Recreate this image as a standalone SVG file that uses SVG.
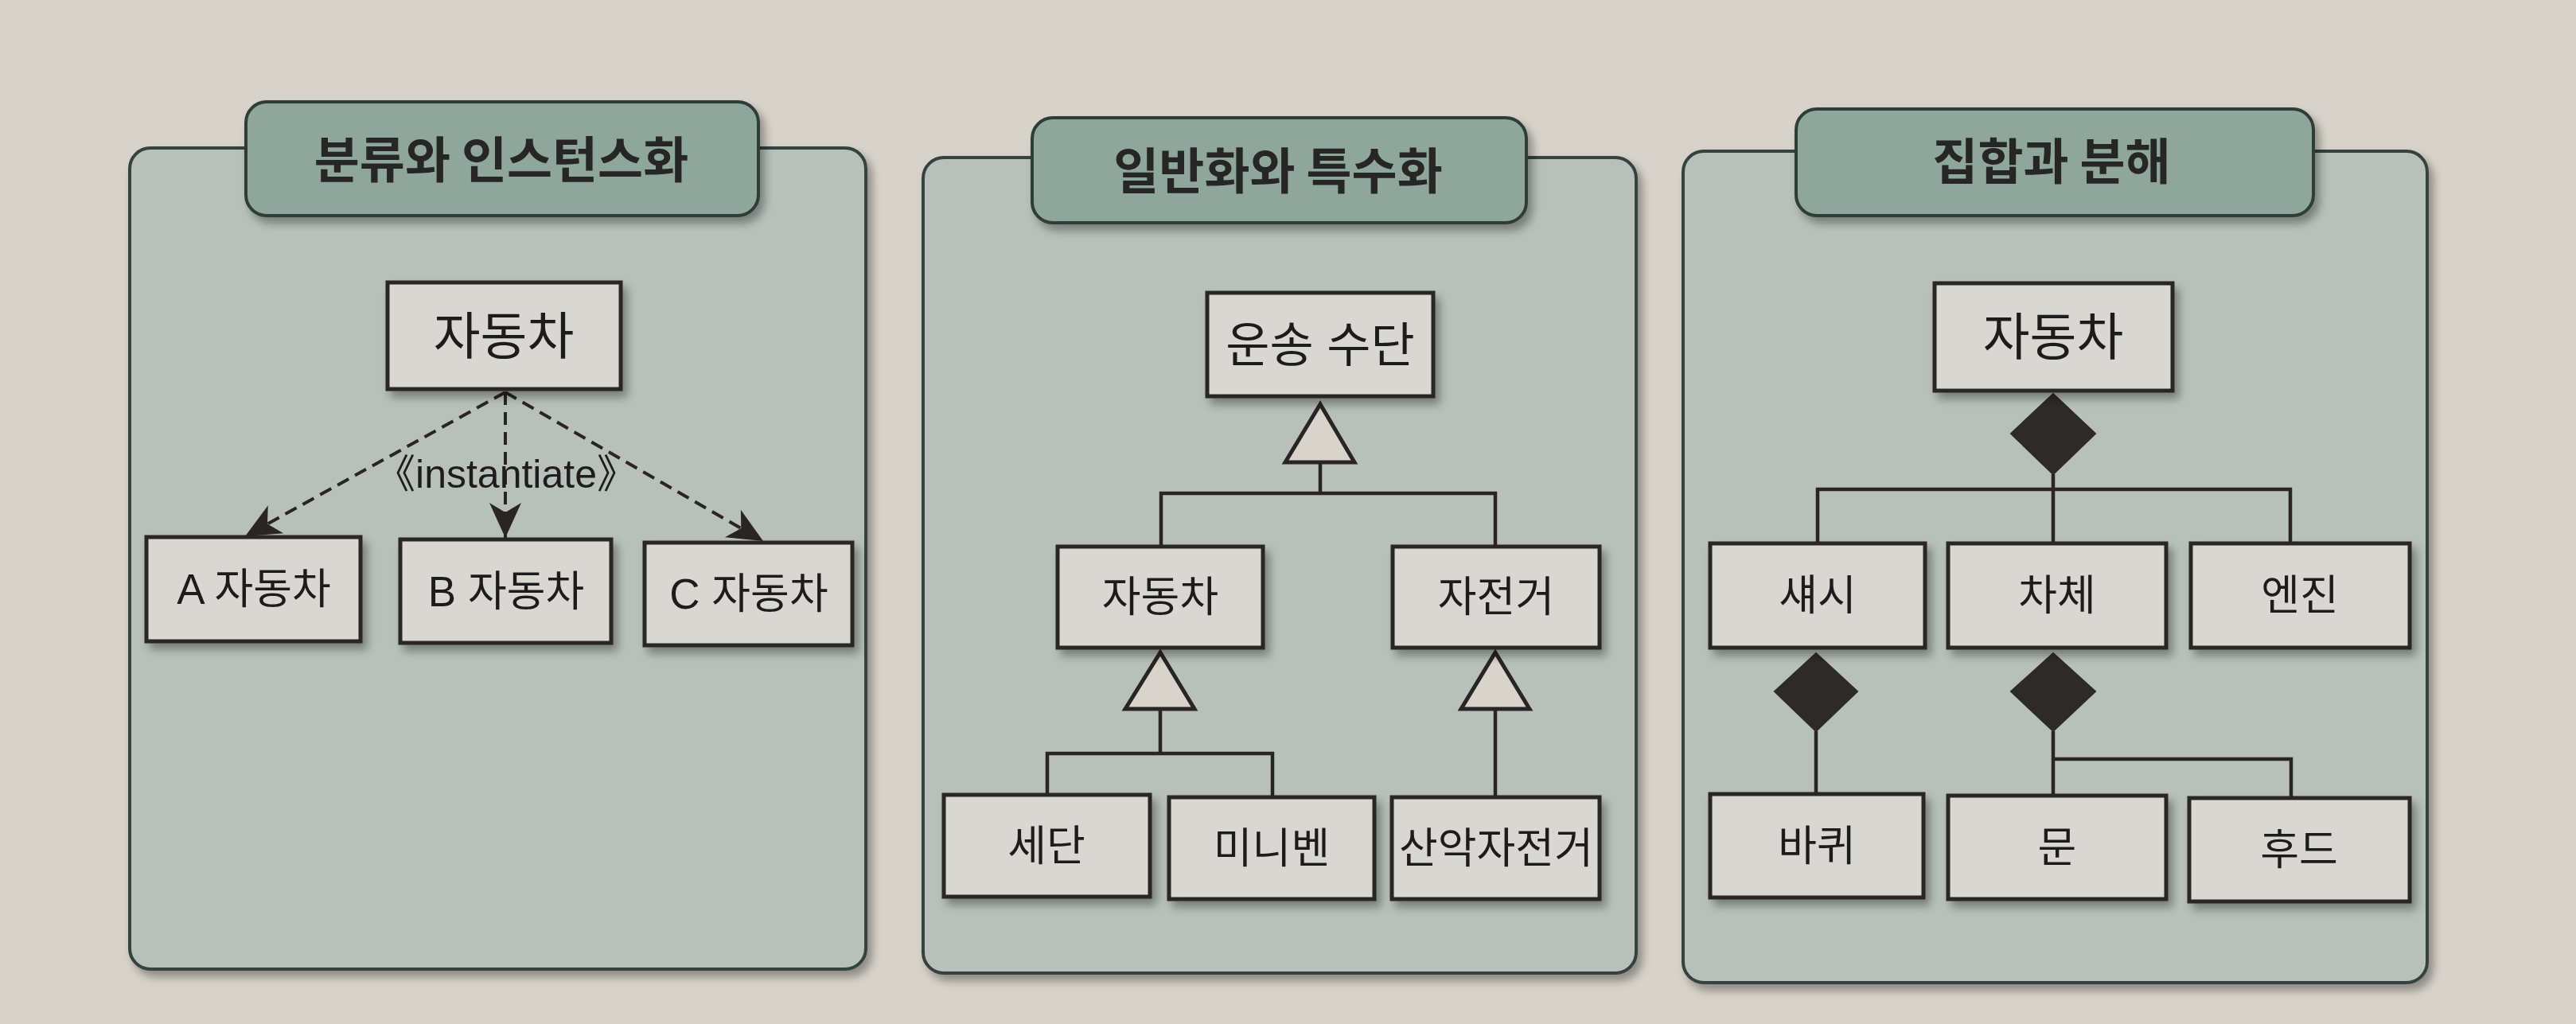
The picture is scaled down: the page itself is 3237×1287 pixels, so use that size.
<svg xmlns="http://www.w3.org/2000/svg" width="3237" height="1287" viewBox="0 0 3237 1287">
<defs>
<style>
.bg{fill:#d8d3ca}
.panel{fill:#b7c1ba;stroke:#34423c;stroke-width:4}
.tab{fill:#8fa69c;stroke:#2f3d37;stroke-width:4}
.title{font-family:"Noto Sans CJK KR","Noto Sans",sans-serif;font-weight:700;font-size:62px;fill:#262626;text-anchor:middle}
.node rect{fill:#d9d7d1;stroke:#2a2524;stroke-width:5}
.lbl{font-family:"Liberation Sans","Noto Sans CJK KR",sans-serif;font-size:53px;fill:#1e1c1c;text-anchor:middle}
.big{font-size:64px}
.ln{fill:none;stroke:#2a2524;stroke-width:4.5}
.dash{fill:none;stroke:#2a2524;stroke-width:4;stroke-dasharray:16 9}
.tri{fill:#d9d4cb;stroke:#2a2524;stroke-width:5;stroke-linejoin:miter}
.dia{fill:#2e2a28;stroke:#2e2a28;stroke-width:2}
.inst{font-family:"Liberation Sans","Noto Sans CJK KR",sans-serif;font-size:50px;fill:#1e1c1c;text-anchor:middle}
</style>
<filter id="sh" x="-10%" y="-10%" width="130%" height="130%">
<feGaussianBlur in="SourceAlpha" stdDeviation="6"/>
<feOffset dx="6" dy="8" result="b"/>
<feComponentTransfer><feFuncA type="linear" slope="0.35"/></feComponentTransfer>
<feMerge><feMergeNode/><feMergeNode in="SourceGraphic"/></feMerge>
</filter>
<marker id="ah" markerUnits="userSpaceOnUse" markerWidth="50" markerHeight="50" viewBox="-45 -25 50 50" refX="0" refY="0" orient="auto">
<path d="M0,0 L-44,-20 L-32,0 L-44,20 Z" fill="#2a2524"/>
</marker>
</defs>
<rect class="bg" x="0" y="0" width="3237" height="1287"/>

<!-- Panel 1 -->
<g id="panel1">
<rect class="panel" x="163" y="186" width="925" height="1032" rx="26" filter="url(#sh)"/>
<rect class="tab" x="309" y="128" width="644" height="143" rx="26" filter="url(#sh)"/>
<text class="title" x="630" y="224">분류와 인스턴스화</text>
</g>
<!-- Panel 2 -->
<g id="panel2">
<rect class="panel" x="1160" y="198" width="896" height="1025" rx="26" filter="url(#sh)"/>
<rect class="tab" x="1297" y="148" width="621" height="132" rx="26" filter="url(#sh)"/>
<text class="title" x="1606" y="238">일반화와 특수화</text>
</g>
<!-- Panel 3 -->
<g id="panel3">
<rect class="panel" x="2115" y="190" width="935" height="1045" rx="26" filter="url(#sh)"/>
<rect class="tab" x="2257" y="137" width="650" height="134" rx="26" filter="url(#sh)"/>
<text class="title" x="2578" y="226">집합과 분해</text>
</g>

<!-- Connectors -->
<g id="connectors">
<line class="dash" x1="635" y1="493" x2="308" y2="674" marker-end="url(#ah)"/>
<line class="dash" x1="635" y1="493" x2="635" y2="676" marker-end="url(#ah)"/>
<line class="dash" x1="635" y1="493" x2="959" y2="680" marker-end="url(#ah)"/>
<polyline class="ln" points="1659,581 1659,620"/>
<polyline class="ln" points="1459,687 1459,620 1879,620 1879,687"/>
<polygon class="tri" points="1659,508 1615,581 1702,581"/>
<polyline class="ln" points="1458,891 1458,947"/>
<polyline class="ln" points="1316,999 1316,947 1599,947 1599,1002"/>
<polygon class="tri" points="1458,820 1414,891 1501,891"/>
<polyline class="ln" points="1879,891 1879,1002"/>
<polygon class="tri" points="1879,820 1836,891 1922,891"/>
<polyline class="ln" points="2580,596 2580,683"/>
<polyline class="ln" points="2284,683 2284,615 2878,615 2878,683"/>
<polygon class="dia" points="2580,495 2633,545 2580,596 2527,545"/>
<polyline class="ln" points="2282,919 2282,998"/>
<polygon class="dia" points="2282,821 2334,869 2282,919 2230,869"/>
<polyline class="ln" points="2580,919 2580,1000"/>
<polyline class="ln" points="2580,954 2879,954 2879,1003"/>
<polygon class="dia" points="2580,821 2633,869 2580,919 2527,869"/>
</g>
<text class="inst" x="636" y="613">《instantiate》</text>

<!-- Panel 1 nodes -->
<g id="p1-car" class="node" filter="url(#sh)"><rect x="487" y="355" width="293" height="134"/><text class="lbl big" x="633" y="445">자동차</text></g>
<g id="p1-a" class="node" filter="url(#sh)"><rect x="184" y="675" width="269" height="131"/><text class="lbl" x="319" y="759">A 자동차</text></g>
<g id="p1-b" class="node" filter="url(#sh)"><rect x="503" y="678" width="265" height="130"/><text class="lbl" x="636" y="762">B 자동차</text></g>
<g id="p1-c" class="node" filter="url(#sh)"><rect x="810" y="682" width="261" height="129"/><text class="lbl" x="941" y="765">C 자동차</text></g>

<!-- Panel 2 nodes -->
<g id="p2-vehicle" class="node" filter="url(#sh)"><rect x="1517" y="368" width="284" height="130"/><text class="lbl" style="font-size:60px" x="1659" y="455">운송 수단</text></g>
<g id="p2-car" class="node" filter="url(#sh)"><rect x="1329" y="687" width="258" height="127"/><text class="lbl" x="1458" y="769">자동차</text></g>
<g id="p2-bike" class="node" filter="url(#sh)"><rect x="1750" y="687" width="260" height="127"/><text class="lbl" x="1880" y="769">자전거</text></g>
<g id="p2-sedan" class="node" filter="url(#sh)"><rect x="1186" y="999" width="259" height="128"/><text class="lbl" x="1315" y="1082">세단</text></g>
<g id="p2-minivan" class="node" filter="url(#sh)"><rect x="1469" y="1002" width="258" height="128"/><text class="lbl" x="1598" y="1085">미니벤</text></g>
<g id="p2-mtb" class="node" filter="url(#sh)"><rect x="1749" y="1002" width="261" height="128"/><text class="lbl" x="1880" y="1085">산악자전거</text></g>

<!-- Panel 3 nodes -->
<g id="p3-car" class="node" filter="url(#sh)"><rect x="2431" y="356" width="299" height="135"/><text class="lbl big" x="2580" y="446">자동차</text></g>
<g id="p3-chassis" class="node" filter="url(#sh)"><rect x="2149" y="683" width="270" height="131"/><text class="lbl" x="2284" y="767">섀시</text></g>
<g id="p3-body" class="node" filter="url(#sh)"><rect x="2448" y="683" width="274" height="131"/><text class="lbl" x="2585" y="767">차체</text></g>
<g id="p3-engine" class="node" filter="url(#sh)"><rect x="2753" y="683" width="275" height="131"/><text class="lbl" x="2890" y="767">엔진</text></g>
<g id="p3-wheel" class="node" filter="url(#sh)"><rect x="2149" y="998" width="268" height="130"/><text class="lbl" x="2283" y="1082">바퀴</text></g>
<g id="p3-door" class="node" filter="url(#sh)"><rect x="2448" y="1000" width="274" height="130"/><text class="lbl" x="2585" y="1084">문</text></g>
<g id="p3-hood" class="node" filter="url(#sh)"><rect x="2751" y="1003" width="277" height="130"/><text class="lbl" x="2889" y="1087">후드</text></g>
</svg>
